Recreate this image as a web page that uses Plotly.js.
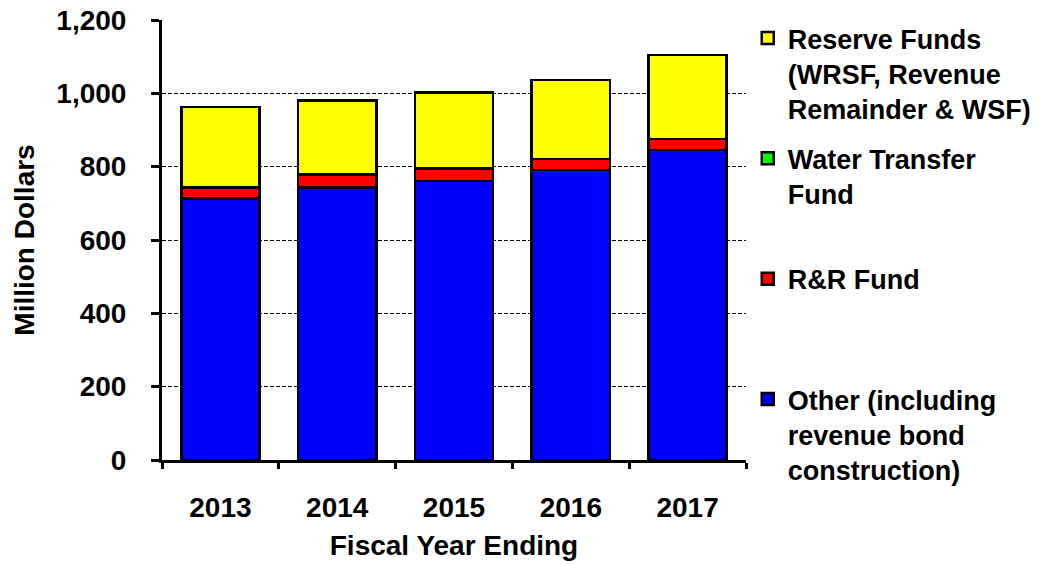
<!DOCTYPE html>
<html>
<head>
<meta charset="utf-8">
<script src="https://cdn.plot.ly/plotly-3.0.1.min.js"></script>
<style>html,body{margin:0;padding:0;background:#fff;}#chart{width:1054px;height:565px;}</style>
</head>
<body>
<div id="chart"></div>
<script>
const years = ['2013', '2014', '2015', '2016', '2017'];
const otherVals = [713, 743, 761, 791, 846];
const rrVals = [30, 35, 34, 30, 30];
const waterVals = [0, 0, 0, 0, 0];
const reserveVals = [220, 202, 207, 215, 228];
const yTicks = [0, 200, 400, 600, 800, 1000, 1200];

const FONT = 'Liberation Sans, Arial, sans-serif';
const line = {color: '#000', width: 2.5};

function bar(name, vals, color, group, rank) {
  return {type: 'bar', x: years, y: vals, name: name, legendgroup: group, legendrank: rank,
    marker: {color: color, line: line}, hoverinfo: 'skip'};
}

const data = [
  bar('<b>Other (including<br>revenue bond<br>construction)</b>', otherVals, '#0000FF', 'a', 4),
  bar('<b>R&amp;R Fund</b><br>&nbsp;<br>&nbsp;', rrVals, '#FF0000', 'b', 3),
  bar('<b>Water Transfer<br>Fund</b><br>&nbsp;', waterVals, '#00FF00', 'c', 2),
  bar('<b>Reserve Funds<br>(WRSF, Revenue<br>Remainder &amp; WSF)</b>', reserveVals, '#FFFF00', 'd', 1)
];

const layout = {
  width: 1054, height: 565,
  margin: {l: 162, r: 308, t: 19.5, b: 105, pad: 0},
  paper_bgcolor: '#fff', plot_bgcolor: '#fff',
  barmode: 'stack', bargap: 0.33,
  font: {family: FONT, color: '#000'},
  showlegend: true,
  legend: {x: 1.003, xanchor: 'left', y: 1.0136, yanchor: 'top', maxheight: 560,
    traceorder: 'grouped', tracegroupgap: 12, valign: 'top',
    font: {family: FONT, size: 27, color: '#000'}, bgcolor: 'rgba(0,0,0,0)'},
  xaxis: {type: 'category', showline: true, linecolor: '#000', linewidth: 3,
    ticks: 'outside', ticklen: 6, tickwidth: 3, tickcolor: '#000', tickson: 'boundaries',
    showgrid: false, zeroline: false, ticklabelstandoff: 20,
    tickfont: {family: FONT, size: 28, color: '#000', weight: 'bold'},
    title: {text: '<b>Fiscal Year Ending</b>', font: {family: FONT, size: 28, color: '#000'}, standoff: 14}},
  yaxis: {range: [0, 1200], tickvals: yTicks, tickformat: ',', showline: true,
    linecolor: '#000', linewidth: 3, ticks: 'outside', ticklen: 8, tickwidth: 3, tickcolor: '#000',
    showgrid: true, gridcolor: '#000', gridwidth: 1, griddash: '4px,2px', zeroline: false,
    ticklabelstandoff: 19,
    tickfont: {family: FONT, size: 28, color: '#000', weight: 'bold'},
    title: {text: '<b>Million Dollars</b>', font: {family: FONT, size: 28, color: '#000'}, standoff: 14}}
};

Plotly.newPlot('chart', data, layout, {staticPlot: true, displayModeBar: false});
</script>
</body>
</html>
